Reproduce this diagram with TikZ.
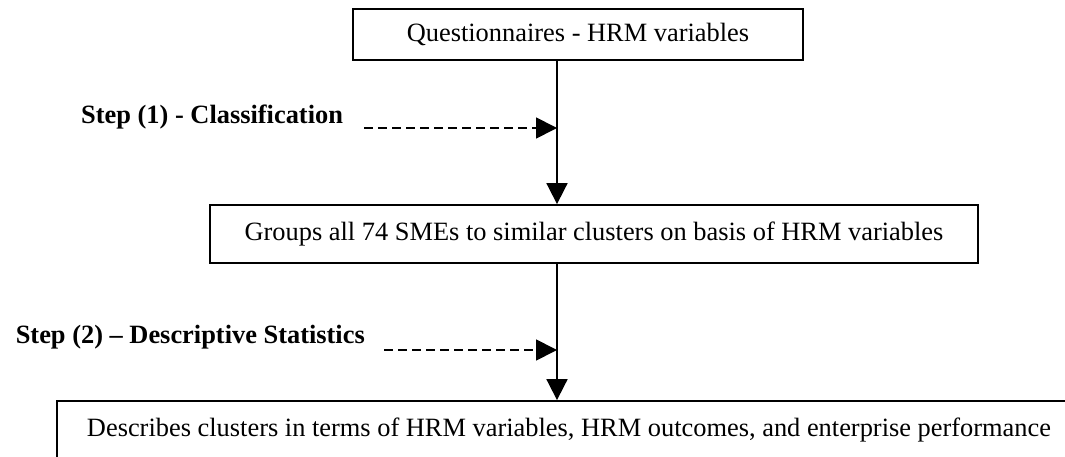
\documentclass[tikz,border=0pt]{standalone}
\usepackage{fontspec}
\setmainfont{Liberation Serif}
\usetikzlibrary{arrows.meta}
\begin{document}
\begin{tikzpicture}[x=1pt,y=-1pt,
  box/.style={draw,line width=1.8pt,inner sep=0pt,font=\fontsize{26.4}{30}\selectfont},
  steplabel/.style={inner sep=0pt,font=\fontsize{26.4}{30}\selectfont\bfseries},
  flow/.style={line width=1.8pt,-{Triangle[length=21pt,width=21pt]}},
  dflow/.style={flow,dash pattern=on 9pt off 5pt}]
\useasboundingbox (0,0) rectangle (1065,457);
\clip (0,0) rectangle (1065,457);
\node[box,minimum width=450pt,minimum height=51pt] (top) at (578,34.5) {Questionnaires - HRM variables};
\node[box,minimum width=768pt,minimum height=58pt] (mid) at (594,234) {Groups all 74 SMEs to similar clusters on basis of HRM variables};
\node[box,minimum width=1024pt,minimum height=58pt] (bot) at (569,430) {Describes clusters in terms of HRM variables, HRM outcomes, and enterprise performance};
\coordinate (sx) at (557,0);
\node[steplabel,anchor=west] (s1) at (81,117) {Step (1) - Classification};
\node[steplabel,anchor=east] (s2) at (365,337) {Step (2) -- Descriptive Statistics};
\coordinate (d1) at (364,128);
\coordinate (d2) at (384,350);
\draw[flow] (top.south -| sx) -- (mid.north -| sx);
\draw[flow] (mid.south -| sx) -- (bot.north -| sx);
\draw[dflow] (d1) -- (d1 -| sx);
\draw[dflow] (d2) -- (d2 -| sx);
\end{tikzpicture}
\end{document}
